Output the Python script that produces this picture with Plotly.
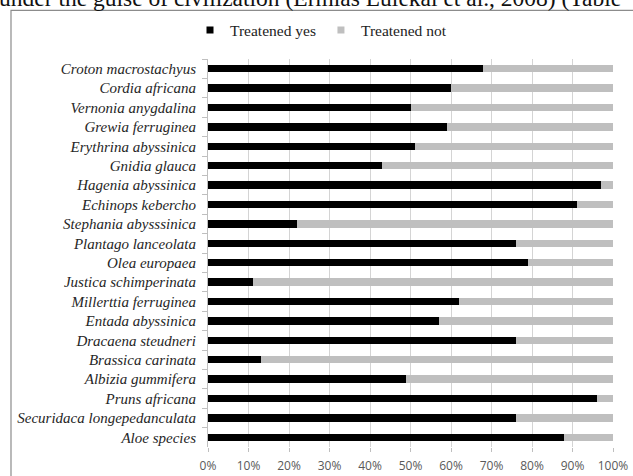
import plotly.graph_objects as go

species = [
    "Croton macrostachyus", "Cordia africana", "Vernonia anygdalina",
    "Grewia ferruginea", "Erythrina abyssinica", "Gnidia glauca",
    "Hagenia abyssinica", "Echinops kebercho", "Stephania abysssinica",
    "Plantago lanceolata", "Olea europaea", "Justica schimperinata",
    "Millerttia ferruginea", "Entada abyssinica", "Dracaena steudneri",
    "Brassica carinata", "Albizia gummifera", "Pruns africana",
    "Securidaca longepedanculata", "Aloe species",
]
threatened_yes = [68, 60, 50, 59, 51, 43, 97, 91, 22, 76,
                  79, 11, 62, 57, 76, 13, 49, 96, 76, 88]
threatened_not = [100 - v for v in threatened_yes]
series_names = ["Treatened yes", "Treatened not"]
series_colors = ["#000000", "#bfbfbf"]
tick_vals = [0, 10, 20, 30, 40, 50, 60, 70, 80, 90, 100]
tick_text = [f"{v}%" for v in tick_vals]

W, H = 633, 476
L, R, T, B = 208, 20, 58.6, 29
pw, ph = W - L - R, H - T - B

def px_x(x):
    return (x - L) / pw

def px_y(y):
    return (H - B - y) / ph

fig = go.Figure()
for name, vals, col in zip(series_names, [threatened_yes, threatened_not], series_colors):
    fig.add_trace(go.Bar(y=species, x=vals, orientation="h", name=name,
                         legendgroup=name, showlegend=False,
                         marker=dict(color=col, line=dict(width=0))))
# legend entries with small square keys (as in the original)
for name, col in zip(series_names, series_colors):
    fig.add_trace(go.Scatter(x=[None], y=[None], mode="markers", name=name,
                             legendgroup=name,
                             marker=dict(symbol="square", size=7, color=col)))

fig.update_layout(
    width=W, height=H,
    margin=dict(l=L, r=R, t=T, b=B, autoexpand=False),
    paper_bgcolor="white", plot_bgcolor="white",
    barmode="stack", bargap=0.61,
    showlegend=True,
    legend=dict(orientation="h", x=px_x(190), xanchor="left", y=px_y(30), yanchor="middle",
                font=dict(family="Liberation Serif", size=15.5, color="#222222"),
                itemwidth=30, traceorder="normal", bgcolor="rgba(0,0,0,0)"),
    xaxis=dict(range=[0, 100], tickvals=tick_vals, ticktext=tick_text,
               showgrid=True, gridcolor="#d4d4d4", gridwidth=1,
               ticks="outside", ticklen=4, tickcolor="#bfbfbf",
               ticklabelstandoff=4,
               showline=False, zeroline=False,
               tickfont=dict(family="Open Sans", size=12, color="#595959")),
    yaxis=dict(categoryorder="array", categoryarray=species, autorange="reversed",
               showline=True, linecolor="#bfbfbf", linewidth=1,
               ticks="outside", ticklen=5, tickcolor="#bfbfbf", tickson="boundaries",
               ticklabelstandoff=8,
               tickfont=dict(family="Liberation Serif", size=15, color="#262626", style="italic")),
    shapes=[dict(type="rect", xref="paper", yref="paper",
                 x0=px_x(11), x1=px_x(700), y0=px_y(600), y1=px_y(10),
                 line=dict(color="#8c8c8c", width=1.2), fillcolor="rgba(0,0,0,0)", layer="below")],
    annotations=[dict(text="under the guise of civilization (Ermias Lulekal et al., 2008) (Table",
                      xref="paper", yref="paper", x=px_x(-3), y=px_y(12.5),
                      xanchor="left", yanchor="bottom", showarrow=False,
                      font=dict(family="Liberation Serif", size=23.5, color="#111111"))],
)

fig.write_html("out.html", config={"displayModeBar": False},
               post_script="document.body.style.margin='0';document.body.style.overflow='hidden';")
